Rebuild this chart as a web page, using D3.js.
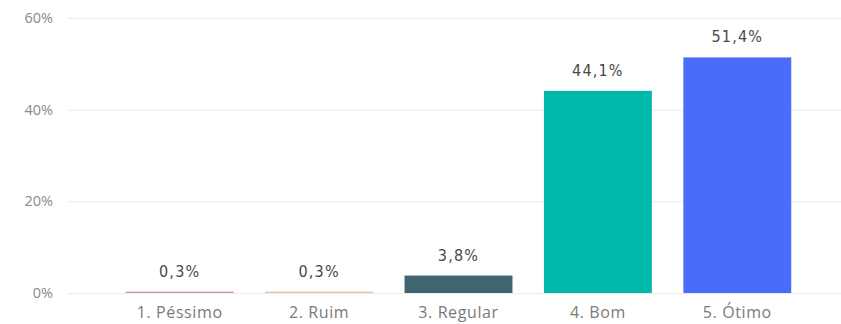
<!DOCTYPE html>
<html>
<head>
<meta charset="utf-8">
<script src="https://cdn.jsdelivr.net/npm/d3@7"></script>
<style>
  html, body { margin: 0; padding: 0; background: #fff; }
  svg { display: block; }
</style>
</head>
<body>
<svg id="chart" width="841" height="324"></svg>
<script>
// Survey ratings: share of answers per category
const categories = ["1. Péssimo", "2. Ruim", "3. Regular", "4. Bom", "5. Ótimo"];
const values = [0.3, 0.3, 3.8, 44.1, 51.4];
const valueLabels = ["0,3%", "0,3%", "3,8%", "44,1%", "51,4%"];
const barColors = ["#d89aa0", "#e8c3a8", "#3f6570", "#00b8a9", "#4a6cfa"];
const yTicks = [0, 20, 40, 60];
const yTickLabels = ["0%", "20%", "40%", "60%"];

const svg = d3.select("#chart");

const x = d3.scaleBand()
  .domain(categories)
  .range([110, 807])
  .paddingInner(0.226)
  .paddingOuter(0.113);

const y = d3.scaleLinear()
  .domain([0, 60])
  .range([293, 18]);

// Horizontal gridlines with percent labels
const yAxis = d3.axisLeft(y)
  .tickValues(yTicks)
  .tickFormat((d, i) => yTickLabels[i])
  .tickSize(-(841 - 68))
  .tickPadding(15);

const gy = svg.append("g")
  .attr("transform", "translate(68,0)")
  .call(yAxis);
gy.select(".domain").remove();
gy.selectAll(".tick line").attr("stroke", "#ececec").attr("stroke-width", 1);
gy.selectAll(".tick text")
  .attr("fill", "#8a8a8a")
  .style("font-family", "'Open Sans', 'Segoe UI', sans-serif")
  .style("font-size", "14.5px");

// Bars
svg.append("g")
  .selectAll("rect")
  .data(values)
  .join("rect")
  .attr("x", (d, i) => x(categories[i]))
  .attr("width", x.bandwidth())
  .attr("y", d => y(d))
  .attr("height", d => y(0) - y(d))
  .attr("fill", (d, i) => barColors[i]);

// Value labels above bars
svg.append("g")
  .selectAll("text")
  .data(values)
  .join("text")
  .attr("x", (d, i) => x(categories[i]) + x.bandwidth() / 2)
  .attr("y", d => y(d) - 15)
  .attr("text-anchor", "middle")
  .attr("fill", "#484848")
  .style("font-family", "'DejaVu Sans Condensed', 'Roboto', sans-serif")
  .style("font-size", "16px")
  .style("letter-spacing", "1.2px")
  .text((d, i) => valueLabels[i]);

// Category axis
const xAxis = d3.axisBottom(x).tickSize(0).tickPadding(14);
const gx = svg.append("g")
  .attr("transform", "translate(0,293)")
  .call(xAxis);
gx.select(".domain").remove();
gx.selectAll(".tick text")
  .attr("fill", "#7a7a7a")
  .style("font-family", "'Open Sans', 'Segoe UI', sans-serif")
  .style("font-size", "16px")
  .style("letter-spacing", "0.6px");
</script>
</body>
</html>
